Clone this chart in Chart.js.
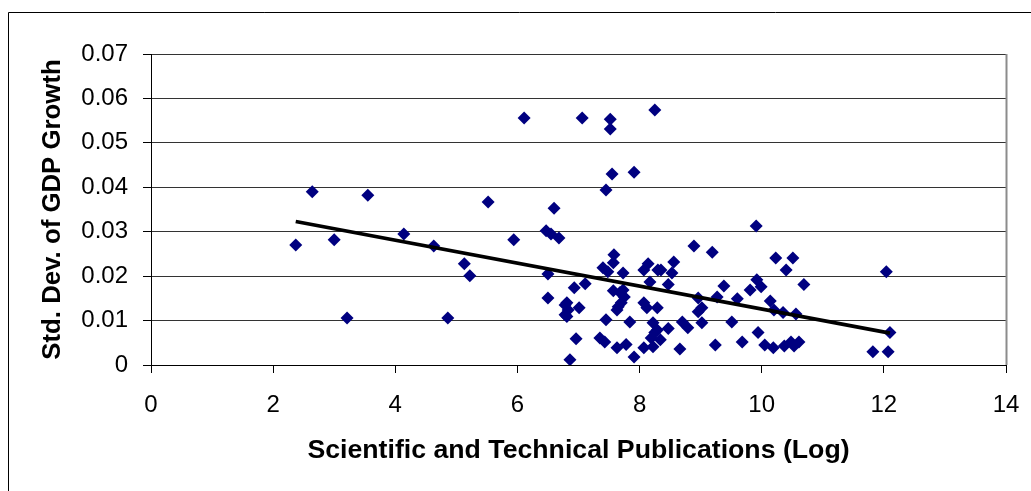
<!DOCTYPE html>
<html>
<head>
<meta charset="utf-8">
<script src="https://cdn.jsdelivr.net/npm/chart.js@4.4.0/dist/chart.umd.min.js"></script>
<style>
  html, body { margin: 0; padding: 0; background: #ffffff; }
  #wrap { position: relative; width: 1031px; height: 491px; }
</style>
</head>
<body>
<div id="wrap"><canvas id="c" width="1031" height="491"></canvas></div>
<script>
// ---- data ----
const pubsLog = [
  2.37, 2.64, 3.00, 3.21, 3.55, 4.14, 4.63, 4.86, 5.13, 5.22, 5.52, 5.94,
  6.11, 7.06, 7.52, 7.52, 8.25, 7.55, 7.91, 7.45, 6.60, 6.47, 6.55, 6.68,
  6.50, 6.50, 6.81, 6.83, 6.81, 7.01, 6.93, 7.11, 6.96, 6.86, 7.40, 7.48,
  7.58, 7.57, 7.73, 7.57, 7.73, 7.75, 7.65, 7.70, 7.45, 7.84, 7.35, 7.43,
  7.63, 7.78, 7.91, 8.07, 8.14, 8.17, 8.30, 8.07, 8.12, 8.29, 8.22, 8.25,
  8.07, 8.22, 9.91, 8.89, 9.19, 8.35, 8.56, 8.53, 8.47, 10.23, 9.38, 9.81,
  9.92, 9.99, 9.27, 9.60, 8.96, 9.02, 8.96, 10.14, 10.20, 8.70, 8.79, 8.47,
  9.02, 9.51, 9.94, 8.66, 9.24, 9.68, 10.05, 10.19, 10.51, 10.40, 10.69, 12.04,
  10.35, 10.56, 12.10, 10.37, 10.48, 10.53, 10.61, 11.82, 12.07,
  7.63, 8.34, 8.29, 8.19, 7.68, 6.78, 6.78
];
const gdpStdDev = [
  0.0270, 0.0390, 0.0282, 0.0106, 0.0382, 0.0295, 0.0268, 0.0106, 0.0228, 0.0201, 0.0367, 0.0282,
  0.0556, 0.0556, 0.0553, 0.0531, 0.0574, 0.0430, 0.0434, 0.0394, 0.0353, 0.0302, 0.0295, 0.0286,
  0.0205, 0.0151, 0.0140, 0.0124, 0.0109, 0.0129, 0.0174, 0.0183, 0.0059, 0.0012, 0.0219, 0.0210,
  0.0248, 0.0230, 0.0207, 0.0167, 0.0169, 0.0153, 0.0131, 0.0140, 0.0102, 0.0097, 0.0061, 0.0052,
  0.0039, 0.0046, 0.0018, 0.0214, 0.0228, 0.0187, 0.0214, 0.0140, 0.0129, 0.0129, 0.0095, 0.0073,
  0.0039, 0.0041, 0.0313, 0.0268, 0.0254, 0.0214, 0.0232, 0.0207, 0.0181, 0.0241, 0.0178, 0.0169,
  0.0192, 0.0176, 0.0153, 0.0149, 0.0151, 0.0129, 0.0120, 0.0144, 0.0124, 0.0097, 0.0084, 0.0082,
  0.0095, 0.0097, 0.0073, 0.0036, 0.0045, 0.0052, 0.0045, 0.0039, 0.0241, 0.0214, 0.0181, 0.0210,
  0.0118, 0.0115, 0.0073, 0.0043, 0.0052, 0.0043, 0.0052, 0.0030, 0.0030,
  0.0124, 0.0057, 0.0079, 0.0061, 0.0163, 0.0135, 0.0113
];
const trendX = [2.37, 12.10];
const trendY = [0.0323, 0.0072];

const xTickLabels = ['0', '2', '4', '6', '8', '10', '12', '14'];
const yTickLabels = ['0', '0.01', '0.02', '0.03', '0.04', '0.05', '0.06', '0.07'];

const xTitle = 'Scientific and Technical Publications (Log)';
const yTitle = 'Std. Dev. of GDP Growth';

// ---- build chart ----
const points = pubsLog.map((x, i) => ({ x: x, y: gdpStdDev[i] }));
const trend = trendX.map((x, i) => ({ x: x, y: trendY[i] }));

const frame = {
  id: 'frame',
  afterDraw(chart) {
    const ctx = chart.ctx;
    const a = chart.chartArea;
    ctx.save();
    ctx.strokeStyle = '#000000';
    ctx.lineWidth = 1;
    ctx.beginPath();
    ctx.moveTo(8.5, 491);
    ctx.lineTo(8.5, 12.5);
    ctx.lineTo(1031, 12.5);
    ctx.stroke();
    ctx.strokeStyle = '#8c8c8c';
    ctx.lineWidth = 2;
    ctx.beginPath();
    ctx.moveTo(Math.round(a.right) + 0.5, a.top);
    ctx.lineTo(Math.round(a.right) + 0.5, a.bottom);
    ctx.stroke();
    ctx.restore();
  }
};

new Chart(document.getElementById('c'), {
  type: 'scatter',
  data: {
    datasets: [
      {
        label: 'Trend',
        data: trend,
        showLine: true,
        borderColor: '#000000',
        borderWidth: 3.8,
        pointRadius: 0,
        fill: false,
        order: 0
      },
      {
        label: 'Countries',
        data: points,
        pointStyle: 'rectRot',
        pointRadius: 6.5,
        pointBackgroundColor: '#000080',
        pointBorderColor: '#000080',
        pointBorderWidth: 0,
        order: 1
      }
    ]
  },
  options: {
    responsive: false,
    animation: false,
    events: [],
    layout: { padding: { left: 0, top: 54, right: 25, bottom: 0 } },
    plugins: {
      legend: { display: false },
      tooltip: { enabled: false }
    },
    scales: {
      x: {
        type: 'linear',
        min: 0,
        max: 14,
        afterFit(s) { s.height = 126; s.paddingRight = 0; s.paddingLeft = 0; },
        afterBuildTicks(s) { s.ticks = xTickLabels.map(v => ({ value: Number(v) })); },
        ticks: {
          stepSize: 2,
          padding: 18,
          color: '#000000',
          font: { family: "'Liberation Sans Narrow', 'Liberation Sans', Arial, sans-serif", size: 24 },
          callback: (v, i) => xTickLabels[i]
        },
        grid: { drawOnChartArea: false, drawTicks: true, tickLength: 8, tickColor: '#000000' },
        border: { display: true, color: '#000000', width: 1 },
        title: {
          display: true,
          text: xTitle,
          color: '#000000',
          font: { family: "'Liberation Sans', Arial, sans-serif", size: 26.7, weight: 'bold' },
          padding: { top: 0, bottom: 24 }
        }
      },
      y: {
        type: 'linear',
        min: 0,
        max: 0.07,
        afterFit(s) { s.width = 151; s.paddingTop = 0; s.paddingBottom = 0; },
        afterBuildTicks(s) { s.ticks = yTickLabels.map(v => ({ value: Number(v) })); },
        ticks: {
          stepSize: 0.01,
          padding: 15,
          color: '#000000',
          font: { family: "'Liberation Sans', Arial, sans-serif", size: 24 },
          callback: (v, i) => yTickLabels[i]
        },
        grid: { color: '#333333', lineWidth: 1, drawTicks: true, tickLength: 8, tickColor: '#000000' },
        border: { display: true, color: '#000000', width: 1 },
        title: {
          display: true,
          text: yTitle,
          color: '#000000',
          font: { family: "'Liberation Sans', Arial, sans-serif", size: 25.8, weight: 'bold' },
          padding: { top: 37, bottom: 0 }
        }
      }
    }
  },
  plugins: [frame]
});
</script>
</body>
</html>
